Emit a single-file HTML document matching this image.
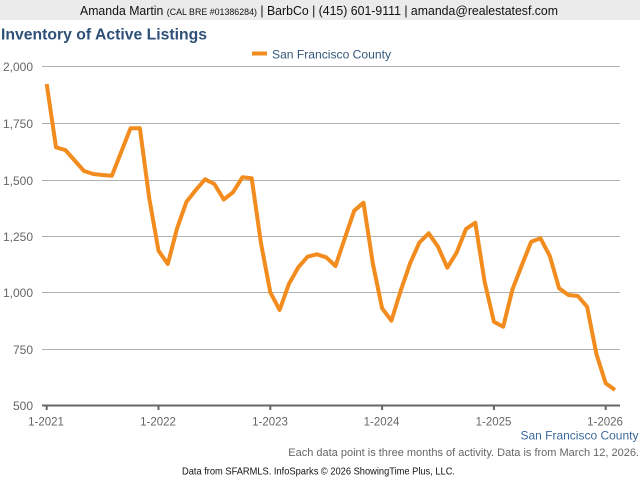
<!DOCTYPE html>
<html>
<head>
<meta charset="utf-8">
<style>
html,body{margin:0;padding:0;background:#fff;}
svg{display:block;font-family:"Liberation Sans",Arial,sans-serif;}
</style>
</head>
<body>
<svg width="640" height="480" viewBox="0 0 640 480" xmlns="http://www.w3.org/2000/svg">
  <rect x="0" y="0" width="640" height="480" fill="#ffffff"/>
  <!-- header bar -->
  <rect x="0" y="0" width="640" height="20" fill="#ebebeb"/>
  <text x="80" y="15" font-size="12.5" fill="#111" textLength="478" lengthAdjust="spacingAndGlyphs">Amanda Martin <tspan font-size="9">(CAL BRE #01386284)</tspan> | BarbCo | (415) 601-9111 | amanda@realestatesf.com</text>

  <!-- title -->
  <text x="1" y="39.5" font-size="15.5" font-weight="bold" fill="#2e5078" textLength="206" lengthAdjust="spacingAndGlyphs">Inventory of Active Listings</text>

  <!-- legend -->
  <rect x="252" y="51.5" width="15" height="4" fill="#f28c1e"/>
  <text x="272" y="58.5" font-size="12" fill="#34577c" textLength="119" lengthAdjust="spacingAndGlyphs">San Francisco County</text>

  <!-- gridlines -->
  <g stroke="#b0b0b0" stroke-width="1">
    <line x1="42" y1="66.5" x2="620" y2="66.5"/>
    <line x1="42" y1="123.5" x2="620" y2="123.5"/>
    <line x1="42" y1="180.5" x2="620" y2="180.5"/>
    <line x1="42" y1="236.5" x2="620" y2="236.5"/>
    <line x1="42" y1="292.5" x2="620" y2="292.5"/>
    <line x1="42" y1="349.5" x2="620" y2="349.5"/>
  </g>

  <!-- y labels -->
  <g font-size="12" fill="#666" text-anchor="end">
    <text x="33" y="71">2,000</text>
    <text x="33" y="128">1,750</text>
    <text x="33" y="185">1,500</text>
    <text x="33" y="241">1,250</text>
    <text x="33" y="297">1,000</text>
    <text x="33" y="354">750</text>
    <text x="33" y="410">500</text>
  </g>

  <!-- x axis -->
  <line x1="42" y1="405.5" x2="620" y2="405.5" stroke="#666" stroke-width="2"/>
  <g stroke="#666" stroke-width="2">
    <line x1="46.7" y1="405" x2="46.7" y2="410"/>
    <line x1="158.5" y1="405" x2="158.5" y2="410"/>
    <line x1="270.3" y1="405" x2="270.3" y2="410"/>
    <line x1="382.1" y1="405" x2="382.1" y2="410"/>
    <line x1="493.9" y1="405" x2="493.9" y2="410"/>
    <line x1="605.7" y1="405" x2="605.7" y2="410"/>
  </g>
  <g font-size="11.5" fill="#666" text-anchor="middle">
    <text x="46" y="425.5">1-2021</text>
    <text x="158" y="425.5">1-2022</text>
    <text x="270" y="425.5">1-2023</text>
    <text x="381.5" y="425.5">1-2024</text>
    <text x="493.5" y="425.5">1-2025</text>
    <text x="605" y="425.5">1-2026</text>
  </g>

  <!-- series -->
  <polyline fill="none" stroke="#f28c1e" stroke-width="4" stroke-linejoin="round" stroke-linecap="butt"
    points="46.7,84 56.0,147.3 65.3,150 74.7,160.5 84.0,171 93.3,174 102.6,175 111.9,175.7 121.2,152 130.5,128.3 139.9,128.3 149.2,198 158.5,250.7 167.8,264 177.1,228.3 186.5,201.7 195.8,190 205.1,179.3 214.4,184 223.7,199.5 233.0,192.3 242.4,177.3 251.7,178.3 261.0,243.3 270.3,292.3 279.6,310 288.9,284 298.3,267.3 307.6,256.7 316.9,254.3 326.2,257.3 335.5,266 344.8,238.3 354.2,210.7 363.5,202.7 372.8,263.3 382.1,308.3 391.4,320.7 400.7,290.7 410.1,263.3 419.4,242.5 428.7,233.3 438.0,246.7 447.3,267.7 456.6,252.7 466.0,229 475.3,222.7 484.6,281.7 493.9,321.7 503.2,326.7 512.5,289.3 521.9,265 531.2,241.7 540.5,238.3 549.8,256 559.1,288.3 568.4,295 577.8,296 587.1,306.7 596.4,354 605.7,383.3 615.0,390"/>

  <!-- bottom labels -->
  <text x="638.5" y="439.5" font-size="12" fill="#3c6a9c" text-anchor="end">San Francisco County</text>
  <text x="639" y="456" font-size="11" fill="#666" text-anchor="end">Each data point is three months of activity. Data is from March 12, 2026.</text>
  <text x="182" y="474.5" font-size="10.5" fill="#111" textLength="273" lengthAdjust="spacingAndGlyphs">Data from SFARMLS. InfoSparks © 2026 ShowingTime Plus, LLC.</text>
</svg>
</body>
</html>
